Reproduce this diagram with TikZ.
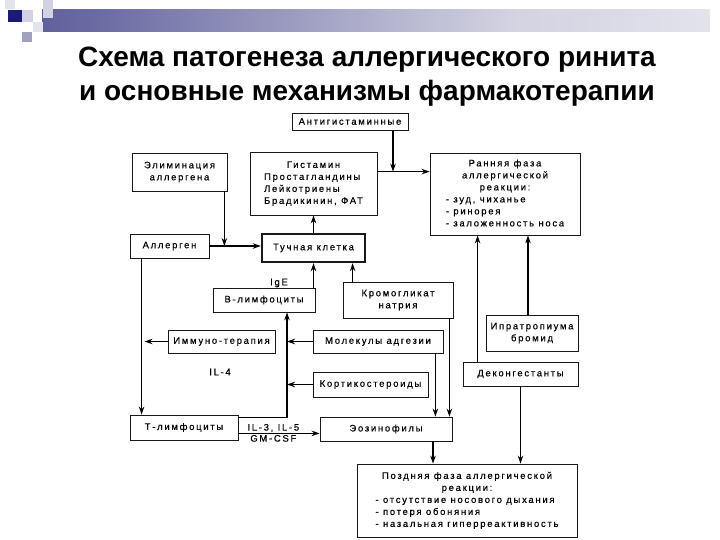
\documentclass[tikz,border=0pt]{standalone}
\usepackage{fontspec}
\setmainfont{Liberation Sans}
\newfontfamily\boxfont[LetterSpace=18, FakeBold=0.4]{Liberation Sans}
\usetikzlibrary{arrows.meta, positioning, calc}
\definecolor{navy}{RGB}{26,26,120}
\definecolor{barmid}{RGB}{110,110,165}
\definecolor{barlight}{RGB}{210,210,225}
\definecolor{sqlight}{RGB}{210,210,228}
\definecolor{sqpale}{RGB}{228,228,238}
\definecolor{sqmid}{RGB}{160,160,192}
\pgfdeclarehorizontalshading{barfade}{100bp}{color(0bp)=(navy); color(30bp)=(barmid); color(60bp)=(barlight); color(100bp)=(white)}

\begin{document}
\begin{tikzpicture}[x=1pt, y=-1pt, >={Stealth[length=8pt,width=5.5pt]},
  box/.style={draw=black!90, line width=0.8pt, inner sep=1pt, align=center,
    font=\boxfont\fontsize{9.5}{12}\selectfont},
  wire/.style={line width=1.2pt},
  lbl/.style={inner sep=1pt, font=\boxfont\fontsize{9.5}{10.5}\selectfont}]

  \useasboundingbox (0,0) rectangle (720,540);

  % slide decoration
  \shade[shading=barfade] (42,10) rectangle (710,32);
  \fill[sqpale] (5,0) rectangle (15,9);
  \fill[sqlight] (43,0) rectangle (53,18);
  \fill[sqlight] (22,10) rectangle (33,22);
  \fill[sqpale] (33,22) rectangle (43,32);
  \fill[sqmid] (22,32) rectangle (32,42);
  \fill[navy] (8,10) rectangle (22,22);

  % title
  \node[anchor=base, font=\bfseries\fontsize{28}{32}\selectfont] (title1) at (367,67) {Схема патогенеза аллергического ринита};
  \node[anchor=base, font=\bfseries\fontsize{28}{32}\selectfont] (title2) at (367,101) {и основные механизмы фармакотерапии};

  % boxes
  \node[box, minimum width=116pt, minimum height=17pt] (anti) at (350,121.5) {Антигистаминные};
  \node[box, minimum width=127pt, minimum height=63pt] (hist) at (313.5,183.5)
    {\begin{tabular}{@{}l@{}}\multicolumn{1}{@{}c@{}}{Гистамин}\\Простагландины\\Лейкотриены\\Брадикинин, ФАТ\end{tabular}};
  \node[box, minimum width=95pt, minimum height=38pt] (elim) at (179.5,172) {Элиминация\\аллергена};
  \node[box, minimum width=150pt, minimum height=82pt] (early) at (505,194)
    {\begin{tabular}{@{}l@{}}\multicolumn{1}{@{}c@{}}{Ранняя фаза}\\\multicolumn{1}{@{}c@{}}{аллергической}\\\multicolumn{1}{@{}c@{}}{реакции:}\\- зуд, чиханье\\- ринорея\\- заложенность носа\end{tabular}};
  \node[box, minimum width=79pt, minimum height=24pt] (allergen) at (169.5,246) {Аллерген};
  \node[box, line width=2.4pt, minimum width=103pt, minimum height=28pt] (mast) at (313.5,248) {Тучная клетка};
  \node[box, minimum width=102pt, minimum height=24pt] (bly) at (264,300) {В-лимфоциты};
  \node[box, minimum width=110pt, minimum height=36pt] (cromo) at (398,300) {Кромогликат\\натрия};
  \node[box, minimum width=107pt, minimum height=23pt] (immuno) at (221.5,341.5) {Иммуно-терапия};
  \node[box, minimum width=130pt, minimum height=23pt] (molec) at (378,341.5) {Молекулы адгезии};
  \node[box, minimum width=115pt, minimum height=25pt] (cortico) at (370.5,384.5) {Кортикостероиды};
  \node[box, minimum width=92pt, minimum height=36pt] (ipra) at (532,333) {Ипратропиума\\бромид};
  \node[box, minimum width=115pt, minimum height=24pt] (decon) at (520.5,374) {Деконгестанты};
  \node[box, minimum width=108pt, minimum height=25pt] (tly) at (184,427.5) {Т-лимфоциты};
  \node[box, minimum width=132pt, minimum height=24pt] (eos) at (386,429) {Эозинофилы};
  \node[box, minimum width=220pt, minimum height=73pt] (late) at (467,500.5)
    {\begin{tabular}{@{}l@{}}\multicolumn{1}{@{}c@{}}{Поздняя фаза аллергической}\\\multicolumn{1}{@{}c@{}}{реакции:}\\- отсутствие носового дыхания\\- потеря обоняния\\- назальная гиперреактивность\end{tabular}};

  % free labels
  \node[lbl] (ige) at (279,283) {IgE};
  \node[lbl] (il4) at (220,372) {IL-4};

  % connectors
  \coordinate (hl) at ($(hist.north east)+(0,20)$);
  \draw[wire,->] (hl) -- (hl -| early.west);
  \draw[wire,->] ($(anti.south)+(43,0)$) coordinate (a1) -- (a1 |- hl);
  \draw[wire,->] (allergen.east) -- (allergen.east -| mast.west);
  \draw[wire,->] ($(elim.south east)+(-3,0)$) coordinate (e1) -- (e1 |- allergen.east);
  \draw[wire,->] (mast.north) -- (hist.south);
  \draw[wire,->] ($(allergen.south west)+(12,0)$) coordinate (al1) -- (al1 |- tly.north);
  \draw[wire,->] (immuno.west) -- ($(immuno.west -| al1)+(3,0)$);
  \coordinate (b1) at ($(bly.south)+(23,0)$);
  \draw[wire,->] ($(tly.north east)+(0,3)$) -| (b1);
  \draw[wire,->] (molec.west) -- (molec.west -| b1);
  \draw[wire,->] (cortico.west) -- (cortico.west -| b1);
  \draw[wire,->] (bly.north -| mast.south) -- (mast.south);
  \draw[wire,->] ($(cromo.north west)+(10,0)$) coordinate (c1) -- (c1 |- mast.south);
  \draw[wire,->] ($(molec.south east)+(-8,0)$) coordinate (m1) -- (m1 |- eos.north);
  \draw[wire,->] ($(cromo.south east)+(-4,0)$) coordinate (c2) -- (c2 |- eos.north);
  \draw[wire,->] ($(tly.south east)+(0,-7)$) coordinate (t1) -- (t1 -| eos.west)
    node[lbl, pos=0.43, above] (il35) {IL-3, IL-5}
    node[lbl, pos=0.43, below] (gmcsf) {GM-CSF};
  \draw[wire,->] ($(eos.south)+(47,0)$) coordinate (q1) -- (q1 |- late.north);
  \draw[wire,->] (decon.south) -- (decon.south |- late.north);
  \draw[wire,->] ($(decon.north west)+(15,0)$) coordinate (d1) -- (d1 |- early.south);
  \draw[wire,->] ($(ipra.north)+(-4,0)$) coordinate (i1) -- (i1 |- early.south);
\end{tikzpicture}
\end{document}
